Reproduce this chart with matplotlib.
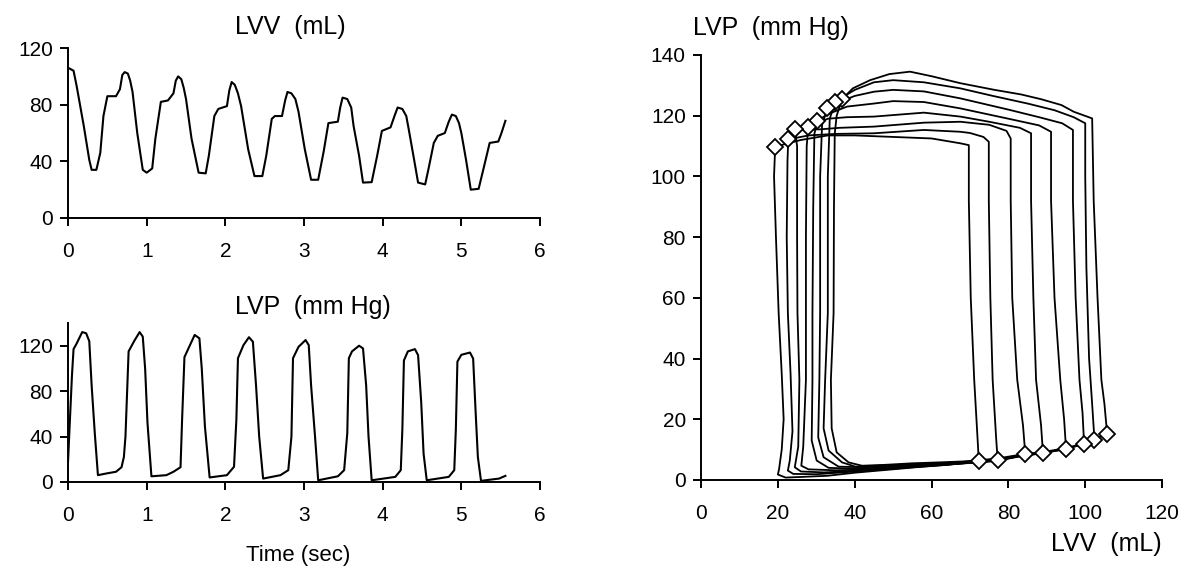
import numpy as np
import matplotlib
matplotlib.use("Agg")
import matplotlib.pyplot as plt

plt.rcParams['font.family'] = ['Liberation Sans', 'DejaVu Sans']

# ---- LV volume vs time
lvv_t = [0.01, 0.07, 0.11, 0.2, 0.27, 0.3, 0.36, 0.41, 0.45, 0.5, 0.61,
         0.66, 0.69, 0.72, 0.76, 0.79, 0.82, 0.88, 0.95, 1.0, 1.07, 1.11, 1.18, 1.27,
         1.34, 1.37, 1.40, 1.44, 1.47, 1.50, 1.57, 1.66, 1.75, 1.79, 1.86, 1.91,
         2.02, 2.05, 2.08, 2.12, 2.16, 2.2, 2.29, 2.37, 2.47, 2.52, 2.59, 2.63,
         2.72, 2.76, 2.79, 2.84, 2.89, 2.93, 3.01, 3.09, 3.18, 3.25, 3.31,
         3.43, 3.46, 3.49, 3.55, 3.6, 3.63, 3.7, 3.75, 3.86, 3.93, 3.99,
         4.1, 4.15, 4.19, 4.25, 4.3, 4.33, 4.4, 4.45, 4.54, 4.58, 4.65, 4.7,
         4.79, 4.84, 4.88, 4.93, 4.97, 5.0, 5.06, 5.12, 5.22, 5.29, 5.36, 5.47,
         5.51, 5.56]
lvv_v = [105.8, 104, 93, 65, 41, 34, 34, 46, 72, 86, 86,
         91, 101, 103, 102, 97, 89, 60, 34, 32, 35, 56, 82, 83,
         88, 97, 100, 98, 92, 84, 56, 32, 31.5, 44, 72, 77,
         79, 90, 96, 94, 88, 79, 48.5, 29.6, 29.6, 44, 70, 72,
         72, 83, 89, 88, 84, 75, 48.5, 27, 27, 47, 67,
         68, 78, 85, 84, 78, 65, 44, 25, 25.3, 44, 61.5,
         64, 72, 78, 77, 72, 63, 41, 25, 23.7, 34, 53, 58,
         60, 68, 73, 72, 67, 60, 41, 20, 20.6, 36.7, 53, 54,
         60, 68.6]

# ---- LV pressure vs time (lower left panel)
lvp_t = [0, 0.02, 0.05, 0.07, 0.11, 0.18, 0.23, 0.27, 0.3, 0.34, 0.38, 0.48, 0.61, 0.68, 0.71, 0.73,
         0.77, 0.84, 0.91, 0.95, 0.98, 1.01, 1.06, 1.25, 1.34, 1.43,
         1.45, 1.48, 1.55, 1.61, 1.67, 1.7, 1.74, 1.8, 2.02, 2.11,
         2.14, 2.16, 2.23, 2.3, 2.35, 2.39, 2.43, 2.48, 2.7, 2.8,
         2.84, 2.86, 2.93, 3.02, 3.06, 3.09, 3.14, 3.18, 3.43, 3.51,
         3.55, 3.57, 3.61, 3.7, 3.75, 3.79, 3.82, 3.86, 4.16, 4.23,
         4.25, 4.27, 4.32, 4.41, 4.45, 4.49, 4.52, 4.56, 4.84, 4.91,
         4.93, 4.95, 5.0, 5.11, 5.15, 5.18, 5.21, 5.25, 5.48, 5.56]
lvp_p = [18, 49, 94, 117, 122, 132, 131, 124, 85, 43, 6, 7.4, 9, 13, 22, 40,
         115, 124, 132, 128, 100, 52, 5, 6, 9, 13,
         55, 110, 120.5, 129.5, 126.5, 100, 49, 4, 6, 13.4,
         55, 109, 120.5, 127.5, 123.5, 85, 40, 3, 6, 10.4,
         40, 109, 119, 125, 120.5, 85, 40, 1.5, 5, 10.4,
         43, 109, 115, 120, 117.6, 85, 40, 1.5, 4.5, 10.4,
         46, 107, 115, 117, 111.7, 70, 25, 1.5, 4.5, 10.4,
         46, 106, 112, 114, 108.7, 64, 22, 1, 3, 5.4]

# ---- pressure-volume loops, first beat (largest) to last beat
loop_v = [
    [105.7, 105.0, 104.2, 103.2, 102.2, 101.8, 97, 93.8, 88.6, 83.3, 76.4, 67.5, 60, 54.4, 49, 44, 39.5,
     36.7, 35.3, 34.8, 34.6, 34.5, 33.8, 34.0, 35.3, 38.4, 41.9, 48, 55, 62, 68, 72.3, 77.2, 84.4, 89,
     95, 99.7, 102.4, 105.7],
    [102.4, 101.8, 101.0, 100.3, 100.0, 100.0, 97, 92, 85, 76, 67.5, 58, 50, 45, 40, 34.9, 33.5, 33.0,
     33.0, 32.3, 31.9, 33.2, 36.7, 40.2, 46, 54, 62, 68, 72.3, 77.2, 84.4, 89, 95, 99.7, 102.4],
    [99.7, 99.3, 98.5, 97.5, 96.8, 96.8, 94, 88, 80, 67.5, 58, 50, 45, 40, 36, 32.9, 31.5, 31.0, 31.0,
     30.8, 30.5, 31.9, 35.8, 42, 50, 58, 65, 72.3, 77.2, 84.4, 89, 95, 99.7],
    [95, 94.5, 93.5, 92, 91.1, 91.1, 88, 80, 67.5, 58, 50, 45, 38, 33, 30.3, 29.5, 29.2, 29.0, 29.0,
     28.8, 30.1, 33.2, 40, 48, 56, 64, 72.3, 77.2, 84.4, 89, 95],
    [89, 88.5, 87.2, 86.5, 85.9, 85.9, 83, 75, 67.5, 58, 45, 38, 33, 27.9, 27.5, 27.3, 27.3, 27.3,
     26.6, 26.1, 28, 35, 42, 50, 58, 66, 72.3, 77.2, 84.4, 89],
    [84.4, 83.8, 82.3, 81, 80.6, 80.6, 79.5, 75, 67.5, 58, 45, 36, 31, 24.4, 25.0, 25.0, 25.1, 25.6,
     25.3, 24.4, 26, 32, 40, 48, 56, 64, 72.3, 77.2, 84.4],
    [77.2, 76.8, 75.9, 75.3, 74.9, 74.9, 73.5, 70, 67.5, 58, 45, 35, 28, 22.7, 22.5, 22.3, 22.6, 23.3,
     23.8, 23.1, 22.6, 24, 30, 40, 48, 56, 64, 70, 77.2],
    [72.3, 72.0, 71.1, 70.2, 69.7, 69.7, 67.5, 60, 50, 40, 33, 26, 19.3, 19.0, 19.5, 20.2, 21.0, 21.5,
     21.0, 20.3, 20.0, 22, 26, 33, 40, 48, 56, 64, 72.3],
]
loop_p = [
    [15.2, 25, 33, 60, 92, 119.1, 121.3, 123.5, 125.4, 127, 128.5, 130.7, 133, 134.5, 133.7, 131.7, 129,
     125.4, 120, 114, 90, 55, 33, 17, 9.1, 5.8, 4.7, 5.0, 5.5, 5.8, 6.1, 6.5, 7.1, 8.6, 9.2,
     10.5, 12.1, 13.4, 15.2],
    [13.2, 25, 40, 70, 100, 117.5, 119.5, 121.8, 124, 126.5, 129, 131, 131.7, 131, 128.5, 124.6, 119, 100,
     55, 33, 17, 9.7, 5.8, 4.4, 4.7, 5.1, 5.5, 5.9, 6.3, 6.8, 8.4, 9.0, 10.3, 11.9, 13.2],
    [11.9, 22, 33, 60, 92, 115.3, 117.5, 119.5, 122, 125.7, 128, 128.5, 127.9, 126.5, 124.5, 122.4, 117, 100, 55,
     33, 14, 7.5, 4.4, 4.2, 4.6, 5.1, 5.6, 6.0, 6.6, 8.3, 8.9, 10.2, 11.9],
    [10.3, 20, 33, 60, 92, 114.7, 116.8, 119, 122.4, 124.5, 124.8, 124, 123, 120.5, 118.4, 114, 90, 55, 33,
     13, 6.4, 4.0, 3.7, 4.2, 4.8, 5.3, 5.9, 6.5, 8.2, 8.8, 10.3],
    [8.8, 18, 33, 60, 92, 114.2, 116, 118, 119.7, 121, 119.7, 119.5, 119, 116.2, 110, 80, 55, 33,
     11, 4.7, 3.5, 3.2, 3.4, 4.0, 4.7, 5.3, 5.9, 6.4, 8.1, 8.8],
    [8.4, 18, 33, 60, 92, 112.5, 115, 117, 118, 117.7, 116.4, 116, 115.5, 115.5, 110, 80, 55, 33,
     11, 4.2, 2.8, 2.5, 3.0, 3.7, 4.4, 5.1, 5.8, 6.3, 8.4],
    [6.6, 14, 33, 60, 92, 111.4, 113, 114.3, 114.7, 115.3, 114.2, 114, 113.5, 112.2, 105, 80, 55, 35,
     16, 6.4, 3.1, 2.0, 1.9, 2.8, 3.5, 4.3, 5.0, 5.7, 6.6],
    [6.2, 13, 33, 60, 92, 110.3, 110.9, 112.5, 113, 113.5, 113.5, 112, 109.8, 100, 80, 55, 35, 20,
     10, 3.5, 1.8, 0.8, 1.0, 1.4, 2.4, 3.3, 4.2, 5.0, 6.2],
]

# end-systolic and end-diastolic points (diamonds)
es_v = [36.7, 34.9, 32.9, 30.3, 27.9, 24.4, 22.7, 19.3]
es_p = [125.4, 124.6, 122.4, 118.4, 116.2, 115.5, 112.2, 109.8]
ed_v = [105.7, 102.4, 99.7, 95.0, 89.0, 84.4, 77.2, 72.3]
ed_p = [15.2, 13.2, 11.9, 10.3, 8.8, 8.4, 6.6, 6.2]


def style(ax, xlim, ylim, xticks, yticks):
    ax.set_xlim(*xlim)
    ax.set_ylim(*ylim)
    ax.set_xticks(xticks)
    ax.set_yticks(yticks)
    for s in ['top', 'right']:
        ax.spines[s].set_visible(False)
    for s in ['left', 'bottom']:
        ax.spines[s].set_linewidth(1.4)
        ax.spines[s].set_clip_on(False)
    ax.tick_params(direction='out', length=6, width=1.4, labelsize=15, pad=5)
    ax.tick_params(axis='x', pad=11)
    ax.patch.set_alpha(0)


fig = plt.figure(figsize=(12, 5.86), dpi=100)

ax1 = fig.add_axes([0.0567, 0.628, 0.3933, 0.290])
ax1.plot(lvv_t, lvv_v, color='black', lw=1.5)
style(ax1, (0, 6), (0, 120), range(0, 7), [0, 40, 80, 120])

ax2 = fig.add_axes([0.0567, 0.1775, 0.3933, 0.2713])
ax2.plot(lvp_t, lvp_p, color='black', lw=1.5)
style(ax2, (0, 6), (0, 140), range(0, 7), [0, 40, 80, 120])

ax3 = fig.add_axes([0.5842, 0.1809, 0.3842, 0.7253])
for v, p in zip(loop_v, loop_p):
    ax3.plot(v, p, color='black', lw=1.3)
ax3.plot(es_v, es_p, ls='none', marker='D', ms=8.5, mfc='white', mec='black', mew=1.3, zorder=5)
ax3.plot(ed_v, ed_p, ls='none', marker='D', ms=8.5, mfc='white', mec='black', mew=1.3, zorder=5)
style(ax3, (0, 120), (0, 140), range(0, 121, 20), range(0, 141, 20))

fig.text(290 / 1200, 1 - 27 / 586, 'LVV  (mL)', ha='center', va='center', fontsize=18)
fig.text(313 / 1200, 1 - 307 / 586, 'LVP  (mm Hg)', ha='center', va='center', fontsize=18)
fig.text(298 / 1200, 1 - 555 / 586, 'Time (sec)', ha='center', va='center', fontsize=16)
fig.text(693 / 1200, 1 - 28 / 586, 'LVP  (mm Hg)', ha='left', va='center', fontsize=18)
fig.text(1162 / 1200, 1 - 544 / 586, 'LVV  (mL)', ha='right', va='center', fontsize=18)

fig.savefig('out.png', dpi=100)
